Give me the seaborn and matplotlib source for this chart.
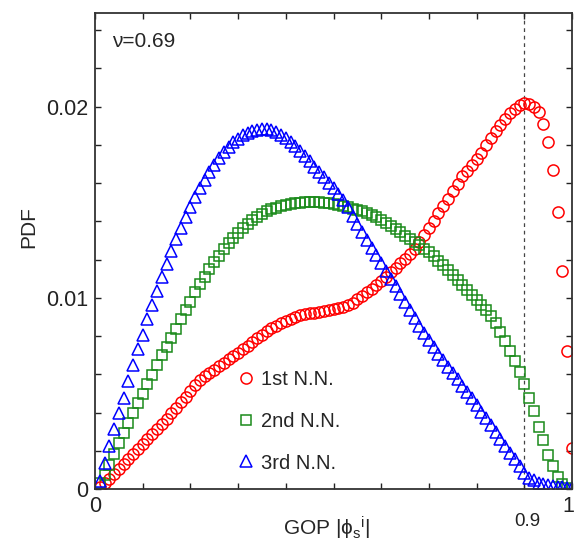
import numpy as np
import pandas as pd
import matplotlib
matplotlib.use("Agg")
import matplotlib.pyplot as plt
import matplotlib.transforms as mtransforms
import seaborn as sns

# grid of GOP values (bin step 0.01)
gop = np.round(np.arange(1, 101) * 0.01, 2)

# 1st nearest neighbours
pdf_1st = [
    0.00010, 0.00030, 0.00052, 0.00078, 0.00105, 0.00132, 0.00158, 0.00185, 0.00211, 0.00237,
    0.00263, 0.00290, 0.00316, 0.00342, 0.00368, 0.00395, 0.00424, 0.00453, 0.00483, 0.00515,
    0.00545, 0.00570, 0.00590, 0.00608, 0.00625, 0.00642, 0.00660, 0.00678, 0.00695, 0.00712,
    0.00730, 0.00748, 0.00768, 0.00788, 0.00806, 0.00825, 0.00840, 0.00855, 0.00868, 0.00880,
    0.00891, 0.00900, 0.00908, 0.00914, 0.00919, 0.00923, 0.00927, 0.00931, 0.00935, 0.00940,
    0.00946, 0.00953, 0.00962, 0.00975, 0.00992, 0.01010, 0.01028, 0.01046, 0.01066, 0.01088,
    0.01110, 0.01133, 0.01157, 0.01180, 0.01205, 0.01230, 0.01255, 0.01290, 0.01327, 0.01365,
    0.01404, 0.01443, 0.01480, 0.01518, 0.01557, 0.01597, 0.01635, 0.01665, 0.01695, 0.01726,
    0.01760, 0.01798, 0.01836, 0.01872, 0.01905, 0.01938, 0.01968, 0.01988, 0.02007, 0.02018,
    0.02015, 0.02000, 0.01970, 0.01911, 0.01813, 0.01667, 0.01447, 0.01141, 0.00720, 0.00217,
]

# 2nd nearest neighbours
pdf_2nd = [
    0.00030, 0.00075, 0.00126, 0.00185, 0.00240, 0.00295, 0.00345, 0.00397, 0.00449, 0.00498,
    0.00550, 0.00598, 0.00649, 0.00700, 0.00745, 0.00790, 0.00838, 0.00890, 0.00935, 0.00978,
    0.01030, 0.01070, 0.01110, 0.01150, 0.01185, 0.01220, 0.01255, 0.01285, 0.01315, 0.01340,
    0.01363, 0.01385, 0.01405, 0.01422, 0.01438, 0.01452, 0.01463, 0.01472, 0.01480, 0.01486,
    0.01491, 0.01494, 0.01497, 0.01499, 0.01500, 0.01500, 0.01499, 0.01497, 0.01494, 0.01490,
    0.01485, 0.01480, 0.01474, 0.01467, 0.01460, 0.01452, 0.01444, 0.01434, 0.01422, 0.01408,
    0.01392, 0.01377, 0.01360, 0.01343, 0.01326, 0.01310, 0.01293, 0.01276, 0.01258, 0.01240,
    0.01218, 0.01194, 0.01170, 0.01148, 0.01122, 0.01095, 0.01068, 0.01043, 0.01017, 0.00991,
    0.00965, 0.00935, 0.00905, 0.00870, 0.00820, 0.00775, 0.00724, 0.00672, 0.00613, 0.00548,
    0.00475, 0.00410, 0.00326, 0.00257, 0.00178, 0.00120, 0.00064, 0.00026, 0.00006, 0.00001,
]

# 3rd nearest neighbours
pdf_3rd = [
    0.00040, 0.00134, 0.00225, 0.00313, 0.00396, 0.00478, 0.00563, 0.00648, 0.00730, 0.00808,
    0.00888, 0.00965, 0.01038, 0.01110, 0.01178, 0.01243, 0.01307, 0.01367, 0.01424, 0.01477,
    0.01527, 0.01574, 0.01617, 0.01657, 0.01695, 0.01730, 0.01762, 0.01789, 0.01813, 0.01833,
    0.01850, 0.01863, 0.01873, 0.01880, 0.01885, 0.01884, 0.01878, 0.01867, 0.01852, 0.01834,
    0.01814, 0.01792, 0.01768, 0.01742, 0.01715, 0.01687, 0.01658, 0.01630, 0.01603, 0.01576,
    0.01545, 0.01510, 0.01473, 0.01430, 0.01388, 0.01345, 0.01303, 0.01262, 0.01222, 0.01182,
    0.01142, 0.01100, 0.01060, 0.01020, 0.00978, 0.00937, 0.00896, 0.00855, 0.00816, 0.00778,
    0.00742, 0.00708, 0.00674, 0.00640, 0.00606, 0.00573, 0.00540, 0.00507, 0.00474, 0.00440,
    0.00405, 0.00370, 0.00334, 0.00298, 0.00262, 0.00226, 0.00190, 0.00155, 0.00120, 0.00086,
    0.00060, 0.00045, 0.00034, 0.00026, 0.00020, 0.00015, 0.00011, 0.00008, 0.00005, 0.00003,
]

labels = ["1st N.N.", "2nd N.N.", "3rd N.N."]
colors = ["#ff0000", "#1a8a1a", "#0000ff"]
markers = ["o", "s", "^"]

xtick_pos = [0.0, 0.1, 0.2, 0.3, 0.4, 0.5, 0.6, 0.7, 0.8, 0.9, 1.0]
xtick_lab = ["0", "", "", "", "", "", "", "", "", "0.9", "1"]
ytick_pos = [0.0, 0.002, 0.004, 0.006, 0.008, 0.01, 0.012, 0.014, 0.016, 0.018, 0.02, 0.022, 0.024]
ytick_lab = ["0", "", "", "", "", "0.01", "", "", "", "", "0.02", "", ""]

sns.set_style("ticks")
plt.rcParams["font.family"] = ["Liberation Sans", "DejaVu Sans"]
plt.rcParams["mathtext.default"] = "regular"

fig = plt.figure(figsize=(5.76, 5.43), dpi=100)
ax = fig.add_axes([95 / 576, 1 - 489 / 543, 477 / 576, 476 / 543])

for lab, ys, c, m in zip(labels, [pdf_1st, pdf_2nd, pdf_3rd], colors, markers):
    df = pd.DataFrame({"x": gop, "y": ys})
    sns.lineplot(data=df, x="x", y="y", ax=ax, linestyle="", marker=m,
                 markersize=7.5 if m == "s" else 8, markerfacecolor="none",
                 markeredgecolor=c, markeredgewidth=1.1, color=c, label=lab)

ax.axvline(0.9, color="#444444", lw=0.9, ls=(0, (3, 3)), zorder=0)

ax.set_xlim(0, 1)
ax.set_ylim(0, 0.0249)
ax.set_xticks(xtick_pos)
ax.set_xticklabels(xtick_lab)
ax.set_yticks(ytick_pos)
ax.set_yticklabels(ytick_lab)
ax.tick_params(direction="in", top=True, right=True, length=4.5, width=1,
               labelsize=15.5, pad=5, colors="#222222")
xt = ax.xaxis.get_major_ticks()
xt[9].set_pad(17)
xt[9].label1.set_fontsize(13.5)
# nudge the "0.9" and "1" labels a little, as in the original
xt[9].label1.set_transform(xt[9].label1.get_transform()
                           + mtransforms.ScaledTranslation(2 / 72, 0, fig.dpi_scale_trans))
xt[10].label1.set_transform(xt[10].label1.get_transform()
                            + mtransforms.ScaledTranslation(-2.5 / 72, 0, fig.dpi_scale_trans))

for s in ax.spines.values():
    s.set_linewidth(1.3)
    s.set_color("#333333")

ax.set_xlabel(r"GOP $|\phi_s{}^i|$", fontsize=15)
ax.xaxis.set_label_coords(0.485, -0.054)
ax.set_ylabel("PDF", fontsize=15)
ax.yaxis.set_label_coords(-0.118, 0.55)

ax.text(0.035, 0.94, "\u03bd=0.69", transform=ax.transAxes, fontsize=15,
        ha="left", va="center")

ax.legend(loc="upper left", bbox_to_anchor=(0.300, 0.250), frameon=False,
          fontsize=14.5, handlelength=0.8, handletextpad=0.35, labelspacing=1.13,
          borderaxespad=0, borderpad=0)

fig.savefig("out.png", dpi=100)
